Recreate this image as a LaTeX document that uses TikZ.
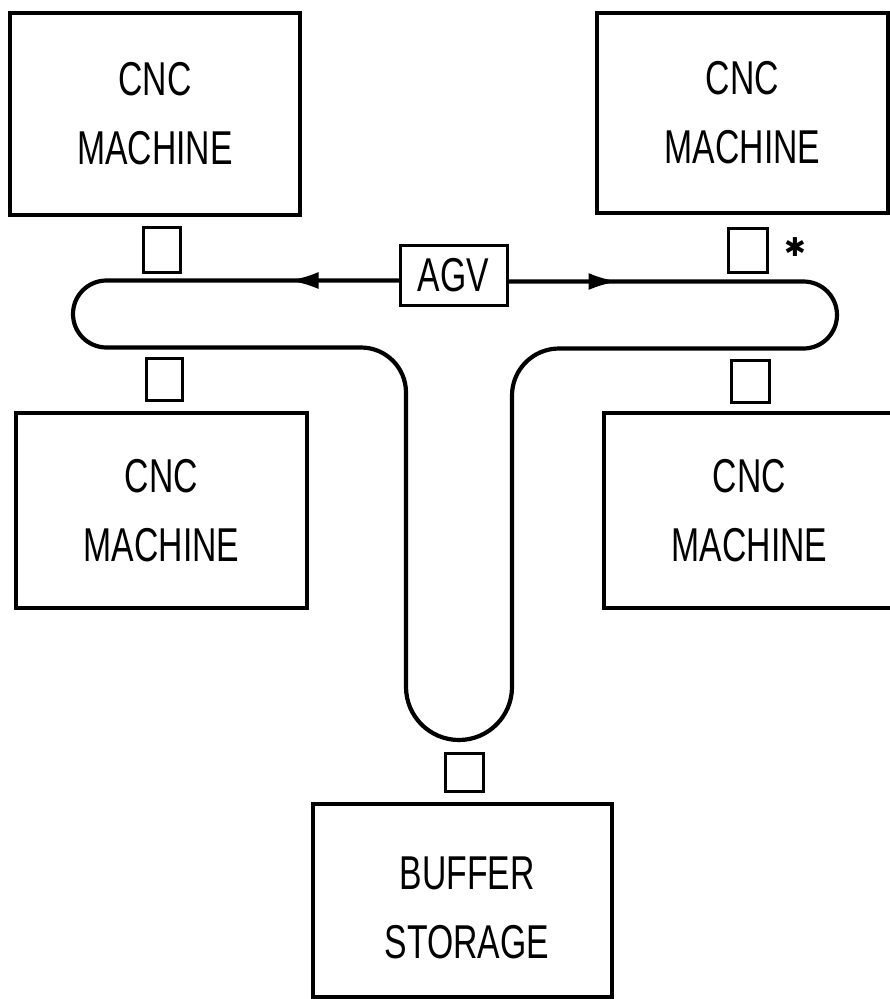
\documentclass[tikz,border=0pt]{standalone}
\usepackage{fontspec}
\setmainfont{Liberation Sans}[FakeStretch=0.71]
\newfontfamily\symbolfont{DejaVu Sans}
\usetikzlibrary{arrows.meta,decorations.markings}

\begin{document}
\begin{tikzpicture}[x=1pt,y=1pt,yscale=-1,
  lbl/.style={font=\fontsize{47.5}{69}\selectfont, align=center, inner sep=0pt},
  unit/.style={draw, line width=3.2pt, inner sep=0pt, lbl},
  station/.style={draw, line width=3pt, inner sep=0pt},
  track/.style={line width=4.2pt, line join=round, line cap=round}]

\useasboundingbox (0,0) rectangle (890,999);
\begin{scope}
\clip (0,0) rectangle (890,999);

% machine cells
\node[unit, minimum width=290pt, minimum height=202pt] (m1) at (155,114)   {CNC\\MACHINE};
\node[unit, minimum width=291pt, minimum height=200pt] (m2) at (742.5,113) {CNC\\MACHINE};
\node[unit, minimum width=291pt, minimum height=195pt] (m3) at (161.5,510.5) {CNC\\MACHINE};
\node[unit, minimum width=291pt, minimum height=195pt] (m4) at (749.5,510.5) {CNC\\MACHINE};

% buffer storage
\node[unit, minimum width=299pt, minimum height=193pt] (buf) at (462.5,900.5) {};
\node[lbl] (buftext) at (467,907.5) {BUFFER\\STORAGE};

% load/unload stations beside the track
\node[station, minimum width=37pt, minimum height=45pt] (s1) at (161.5,249.5) {};
\node[station, minimum width=36pt, minimum height=42pt] (s3) at (164,379) {};
\node[station, minimum width=39pt, minimum height=44pt] (s2) at (747.5,250) {};
\node[station, minimum width=38pt, minimum height=42pt] (s4) at (750,381) {};
\node[station, minimum width=38pt, minimum height=38pt] (s5) at (464,772) {};

% asterisk marker
\node[font=\symbolfont\fontsize{26}{26}\selectfont, inner sep=0pt] (mark) at (795,247) {✱};

% vehicle
\node[draw, line width=3pt, minimum width=107pt, minimum height=60pt, lbl] (agv) at (453.5,275) {AGV};

% guide path
\coordinate (lt) at (106.5,280.5);
\coordinate (rt) at (803.5,281.5);
\draw[track, postaction={decorate}, decoration={markings,
    mark=at position 110pt with {\arrow{Latex[length=30pt,width=17pt]}},
    mark=at position -110pt with {\arrowreversed{Latex[length=30pt,width=17pt]}}}]
  (agv.west |- lt) -- (lt)
  arc[start angle=270, end angle=90, radius=33.5]
  -- (361,347.5)
  arc[start angle=270, end angle=360, radius=45]
  -- (406,687)
  arc[start angle=180, end angle=0, radius=53]
  -- (512,395.5)
  arc[start angle=180, end angle=270, radius=47]
  -- (803.5,348.5)
  arc[start angle=90, end angle=-90, radius=33.5]
  -- (agv.east |- rt);
\end{scope}
\end{tikzpicture}
\end{document}
